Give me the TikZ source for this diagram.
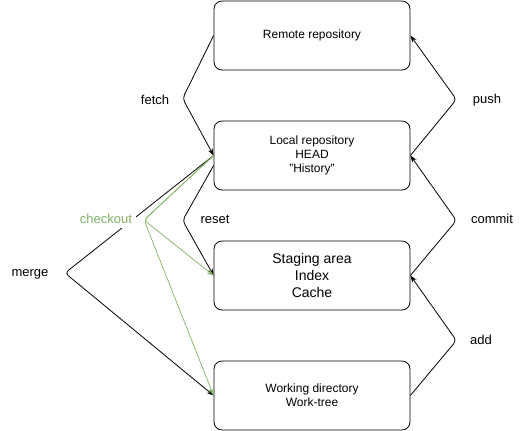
\documentclass[tikz,border=0pt]{standalone}
\usepackage{fontspec}
\setmainfont{Liberation Sans}
\usetikzlibrary{positioning,arrows.meta}
\definecolor{checkgreen}{RGB}{130,179,102}

\begin{document}
\begin{tikzpicture}[x=1pt,y=-1pt,
  area/.style={draw,line width=0.8pt,rounded corners=8pt,minimum width=196pt,minimum height=69pt,
    align=center,font=\fontsize{12}{14}\selectfont},
  cmd/.style={font=\fontsize{13}{15}\selectfont,inner sep=2pt},
  flow/.style={-{Stealth[length=7pt,width=5pt]},line width=0.8pt,rounded corners=4pt}]
\useasboundingbox (0,0) rectangle (523,431);
% the four areas
\node[area] (remote) at (312,35.5) {Remote repository};
\node[area] (local) at (312,155.5) {Local repository\\HEAD\\"History"};
\node[area,font=\fontsize{14}{17}\selectfont] (staging) at (312,275.5) {Staging area\\Index\\Cache};
\node[area] (work) at (312,395.5) {Working directory\\Work-tree};
% up the right side
\draw[flow] (local.east) -- ++(46,-56) -- (remote.east);
\node[cmd] (push) at (487,100) {push};
\draw[flow] (staging.east) -- ++(46,-55) -- (local.east);
\node[cmd] (commit) at (492,219) {commit};
\draw[flow] (work.east) -- ++(46,-55) -- (staging.east);
\node[cmd] (add) at (481,340) {add};
% down the left side
\draw[flow] (remote.west) -- ++(-31,63) -- (local.west);
\node[cmd] (fetch) at (155,100) {fetch};
\draw[flow] ([yshift=-10pt]local.west) -- ++(-31,55) -- (staging.west);
\node[cmd] (reset) at (215,219) {reset};
\coordinate (mergebend) at (65,273);
\draw[flow] (local.west) -- (mergebend) -- (work.west);
\node[cmd] (merge) at (30,274) {merge};
\node[cmd,text=checkgreen,fill=white,inner sep=4pt] (checkout) at (106,219) {checkout};
\coordinate (checkbend) at (144,220);
\draw[flow,checkgreen,line width=0.7pt] (local.west) -- (checkbend) -- (staging.west);
\draw[flow,checkgreen,line width=0.7pt] (local.west) -- (checkbend) -- (work.west);
\end{tikzpicture}
\end{document}
